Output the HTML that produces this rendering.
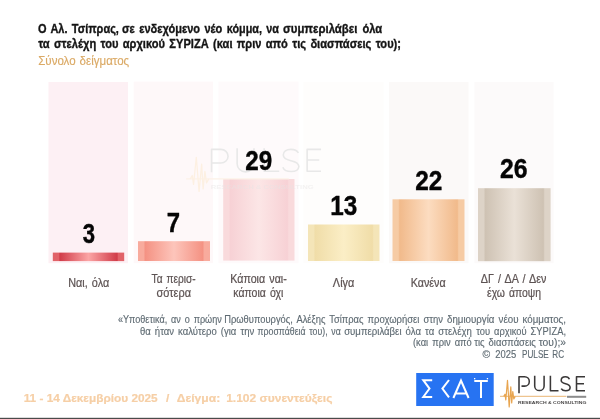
<!DOCTYPE html>
<html lang="el">
<head>
<meta charset="utf-8">
<title>Pulse</title>
<style>
html,body{margin:0;padding:0;background:#fff;}
body{width:600px;height:419px;overflow:hidden;font-family:"Liberation Sans",sans-serif;}
svg{display:block;}
text{font-family:"Liberation Sans",sans-serif;}
.t{word-spacing:1.5px;font-weight:bold;font-size:13.2px;fill:#141414;stroke:#141414;stroke-width:0.35;}
.sub{word-spacing:0.8px;font-size:12.2px;fill:#dbaa66;stroke:#dbaa66;stroke-width:0.15;}
.num{font-weight:bold;font-size:27.8px;fill:#050505;stroke:#050505;stroke-width:0.4;text-anchor:middle;}
.lab{word-spacing:1.3px;font-size:12px;fill:#5d5353;stroke:#5d5353;stroke-width:0.22;text-anchor:middle;}
.fn{word-spacing:1.6px;font-size:10.8px;fill:#5f6b73;stroke:#5f6b73;stroke-width:0.15;}
.ft{font-weight:bold;font-size:11.8px;fill:#f6cfa6;stroke:#f6cfa6;stroke-width:0.2;}
</style>
</head>
<body>
<svg width="600" height="419" viewBox="0 0 600 419" style="opacity:0.999">
<defs>
<linearGradient id="g1" x1="0" x2="1" y1="0" y2="0">
 <stop offset="0" stop-color="#e16268"/><stop offset="0.08" stop-color="#e16268"/><stop offset="0.10" stop-color="#d13c49"/><stop offset="0.5" stop-color="#fba5a5"/><stop offset="0.90" stop-color="#d13c49"/><stop offset="0.92" stop-color="#e16268"/><stop offset="1" stop-color="#e16268"/>
</linearGradient>
<linearGradient id="g2" x1="0" x2="1" y1="0" y2="0">
 <stop offset="0" stop-color="#f8ab9d"/><stop offset="0.08" stop-color="#f8ab9d"/><stop offset="0.10" stop-color="#f49283"/><stop offset="0.5" stop-color="#fdc5bb"/><stop offset="0.90" stop-color="#f49283"/><stop offset="0.92" stop-color="#f8ab9d"/><stop offset="1" stop-color="#f8ab9d"/>
</linearGradient>
<linearGradient id="g3" x1="0" x2="1" y1="0" y2="0">
 <stop offset="0" stop-color="#f9dadc"/><stop offset="0.08" stop-color="#f9dadc"/><stop offset="0.10" stop-color="#f7d1d5"/><stop offset="0.5" stop-color="#fce6e6"/><stop offset="0.90" stop-color="#f7d1d5"/><stop offset="0.92" stop-color="#f9dadc"/><stop offset="1" stop-color="#f9dadc"/>
</linearGradient>
<linearGradient id="g4" x1="0" x2="1" y1="0" y2="0">
 <stop offset="0" stop-color="#f4e5b8"/><stop offset="0.08" stop-color="#f4e5b8"/><stop offset="0.10" stop-color="#f0dda8"/><stop offset="0.5" stop-color="#fbeec6"/><stop offset="0.90" stop-color="#f0dda8"/><stop offset="0.92" stop-color="#f4e5b8"/><stop offset="1" stop-color="#f4e5b8"/>
</linearGradient>
<linearGradient id="g5" x1="0" x2="1" y1="0" y2="0">
 <stop offset="0" stop-color="#f6cba4"/><stop offset="0.08" stop-color="#f6cba4"/><stop offset="0.10" stop-color="#f1ba8b"/><stop offset="0.5" stop-color="#fcdcc0"/><stop offset="0.90" stop-color="#f1ba8b"/><stop offset="0.92" stop-color="#f6cba4"/><stop offset="1" stop-color="#f6cba4"/>
</linearGradient>
<linearGradient id="g6" x1="0" x2="1" y1="0" y2="0">
 <stop offset="0" stop-color="#ddd3c7"/><stop offset="0.08" stop-color="#ddd3c7"/><stop offset="0.10" stop-color="#cec2b3"/><stop offset="0.5" stop-color="#eae1d7"/><stop offset="0.90" stop-color="#cec2b3"/><stop offset="0.92" stop-color="#ddd3c7"/><stop offset="1" stop-color="#ddd3c7"/>
</linearGradient>
<linearGradient id="gb" x1="0" x2="0" y1="0" y2="1">
 <stop offset="0" stop-color="#ffffff"/><stop offset="0.45" stop-color="#9a9a9a"/><stop offset="1" stop-color="#3c3c3c"/>
</linearGradient>
<filter id="soft" x="-5%" y="-5%" width="110%" height="110%"><feGaussianBlur stdDeviation="0.5"/></filter>

</defs>
<rect width="600" height="419" fill="#ffffff"/>
<!-- column backgrounds -->
<g filter="url(#soft)">
<rect x="48.5" y="82" width="79.5" height="181.2" fill="#fdf0f4"/>
<rect x="133.7" y="81.6" width="79.3" height="181.6" fill="#fef8f9"/>
<rect x="218.5" y="81.6" width="80" height="181.6" fill="#fefafb"/>
<rect x="303.5" y="82" width="80" height="181.2" fill="#fefdfc"/>
<rect x="389" y="82" width="79.5" height="181.2" fill="#fbf9f8"/>
<rect x="474.5" y="82" width="79" height="181.2" fill="#fcfafa"/>
</g>
<!-- bars -->
<rect x="52.8" y="252.6" width="71.4" height="8.5" fill="url(#g1)"/>
<rect x="138" y="241.2" width="72" height="19.8" fill="url(#g2)"/>
<rect x="223.2" y="179" width="71.3" height="81.6" fill="url(#g3)"/>
<rect x="308" y="224.5" width="71.5" height="36.5" fill="url(#g4)"/>
<rect x="392.5" y="199.3" width="72" height="61.7" fill="url(#g5)"/>
<rect x="478" y="188.2" width="72.6" height="73" fill="url(#g6)"/>
<!-- watermark -->
<g>
 <g transform="translate(210.4,148.3) scale(1.62,1.55)" stroke="#e8e8e8" stroke-width="1.0" fill="none" stroke-linejoin="round">
 <path d="M0.7 15.5 V0.7 H6.5 A4.4 4.4 0 0 1 6.5 9.5 H0.7"/>
 <path d="M16.5 0 V10 A5.2 5.2 0 0 0 26.9 10 V0"/>
 <path d="M33.2 0 V14.8 H42.5"/>
 <path d="M54.3 3 C53.5 1.4 51.8 0.7 49.7 0.7 C46.8 0.7 45 2.2 45 4.3 C45 6.5 46.8 7.3 49.7 8 C52.8 8.7 54.6 9.6 54.6 11.8 C54.6 13.8 52.6 15 49.9 15 C47.4 15 45.4 14 44.7 12.2"/>
 <path d="M68.3 0.7 H59.7 V14.8 H68.3 M59.7 7.6 H67.2"/>
</g>
 <text x="210.7" y="188.8" font-size="4.6" fill="#e6e4e4" opacity="0.45" textLength="103" lengthAdjust="spacingAndGlyphs" font-weight="bold">RESEARCH &amp; CONSULTING</text>
 <g transform="translate(210.4,148.3) scale(1.62,1.55) translate(-518,-376.7)" fill="none">
  <path d="M503 396.4 H566.4" stroke="#fcf2e7" stroke-width="0.9"/>
  <path transform="translate(1.8,0)" d="M503.8 396.4 L505 394.2 L505.8 400 L507.5 382.5 L509.2 404.5 L510.8 386.9 L511.7 402.9 L512.8 391.6 L513.8 399 L515.2 396.4" stroke="#fdf0e2" stroke-width="0.8" stroke-linejoin="round"/>
 </g>
</g>
<!-- numbers -->
<text class="num" x="88.8" y="242.6" textLength="12.3" lengthAdjust="spacingAndGlyphs">3</text>
<text class="num" x="173.3" y="231.6" textLength="13.3" lengthAdjust="spacingAndGlyphs">7</text>
<text class="num" x="258.8" y="169.9" textLength="27" lengthAdjust="spacingAndGlyphs">29</text>
<text class="num" x="343.7" y="214.8" textLength="27" lengthAdjust="spacingAndGlyphs">13</text>
<text class="num" x="428.8" y="189.6" textLength="27.2" lengthAdjust="spacingAndGlyphs">22</text>
<text class="num" x="513.8" y="177.9" textLength="27.6" lengthAdjust="spacingAndGlyphs">26</text>
<!-- title -->
<text class="t" x="38.0" y="33.2" textLength="80.9" lengthAdjust="spacingAndGlyphs">Ο Αλ. Τσίπρας,</text>
<text class="t" x="122.0" y="33.2" textLength="100.3" lengthAdjust="spacingAndGlyphs">σε ενδεχόμενο νέο</text>
<text class="t" x="226.7" y="33.2" textLength="52.2" lengthAdjust="spacingAndGlyphs">κόμμα, να</text>
<text class="t" x="283.0" y="33.2" textLength="74.3" lengthAdjust="spacingAndGlyphs">συμπεριλάβει</text>
<text class="t" x="362.5" y="33.2" textLength="19.7" lengthAdjust="spacingAndGlyphs">όλα</text>
<text class="t" x="38.2" y="47.5" textLength="362.8" lengthAdjust="spacingAndGlyphs">τα στελέχη του αρχικού ΣΥΡΙΖΑ (και πριν από τις διασπάσεις του);</text>
<text class="sub" x="38.2" y="64.7" textLength="91" lengthAdjust="spacingAndGlyphs">Σύνολο δείγματος</text>
<!-- labels -->
<text class="lab" x="88.7" y="287.3" textLength="41" lengthAdjust="spacingAndGlyphs">Ναι, όλα</text>
<text class="lab" x="173.6" y="283.4" textLength="44" lengthAdjust="spacingAndGlyphs">Τα περισ-</text>
<text class="lab" x="173.8" y="297" textLength="34.5" lengthAdjust="spacingAndGlyphs">σότερα</text>
<text class="lab" x="258.5" y="283.4" textLength="56.5" lengthAdjust="spacingAndGlyphs">Κάποια ναι-</text>
<text class="lab" x="258.3" y="297" textLength="50" lengthAdjust="spacingAndGlyphs">κάποια όχι</text>
<text class="lab" x="343.6" y="287.3" textLength="21.5" lengthAdjust="spacingAndGlyphs">Λίγα</text>
<text class="lab" x="428.2" y="287.3" textLength="35" lengthAdjust="spacingAndGlyphs">Κανένα</text>
<text class="lab" x="513.6" y="283.4" textLength="65.5" lengthAdjust="spacingAndGlyphs">ΔΓ / ΔΑ / Δεν</text>
<text class="lab" x="514" y="297" textLength="54" lengthAdjust="spacingAndGlyphs">έχω άποψη</text>
<!-- footnote -->
<text class="fn" x="118.0" y="322.9" textLength="103.8" lengthAdjust="spacingAndGlyphs">«Υποθετικά, αν ο πρώην</text>
<text class="fn" x="224.2" y="322.9" textLength="139.3" lengthAdjust="spacingAndGlyphs">Πρωθυπουργός, Αλέξης Τσίπρας</text>
<text class="fn" x="367.5" y="322.9" textLength="75.5" lengthAdjust="spacingAndGlyphs">προχωρήσει στην</text>
<text class="fn" x="447.0" y="322.9" textLength="119.0" lengthAdjust="spacingAndGlyphs">δημιουργία νέου κόμματος,</text>
<text class="fn" x="140.0" y="334.6" textLength="114.2" lengthAdjust="spacingAndGlyphs">θα ήταν καλύτερο (για την</text>
<text class="fn" x="257.5" y="334.6" textLength="83.3" lengthAdjust="spacingAndGlyphs">προσπάθειά του), να</text>
<text class="fn" x="344.2" y="334.6" textLength="127.6" lengthAdjust="spacingAndGlyphs">συμπεριλάβει όλα τα στελέχη</text>
<text class="fn" x="476.2" y="334.6" textLength="89.8" lengthAdjust="spacingAndGlyphs">του αρχικού ΣΥΡΙΖΑ,</text>
<text class="fn" x="413.0" y="346.3" textLength="58.8" lengthAdjust="spacingAndGlyphs">(και πριν από</text>
<text class="fn" x="474.2" y="346.3" textLength="61.6" lengthAdjust="spacingAndGlyphs">τις διασπάσεις</text>
<text class="fn" x="538.7" y="346.3" textLength="27.3" lengthAdjust="spacingAndGlyphs">του);»</text>
<text class="fn" x="482.6" y="358.0" textLength="7.7" lengthAdjust="spacingAndGlyphs">©</text>
<text class="fn" x="495.3" y="358.0" textLength="21.0" lengthAdjust="spacingAndGlyphs">2025</text>
<text class="fn" x="522.0" y="358.0" textLength="42.1" lengthAdjust="spacingAndGlyphs">PULSE RC</text>
<!-- footer -->
<text class="ft" x="23.7" y="401.7" textLength="134" lengthAdjust="spacingAndGlyphs">11 - 14 Δεκεμβρίου 2025</text>
<text class="ft" x="166" y="401.7">/</text>
<text class="ft" x="176.8" y="401.7" textLength="43.4" lengthAdjust="spacingAndGlyphs">Δείγμα:</text>
<text class="ft" x="226.2" y="401.7" textLength="106.2" lengthAdjust="spacingAndGlyphs">1.102 συνεντεύξεις</text>
<!-- SKAI -->
<rect x="416.2" y="373" width="77.5" height="33" fill="#2773f2"/>
<g fill="none" stroke="#ffffff" stroke-width="2" stroke-linejoin="miter" stroke-linecap="butt">
 <path d="M432.2 380.2 H423.3 L429.5 388.6 L423.3 397 H432.2"/>
 <path d="M449 380 L442.4 388.6 L449 397.3"/>
 <path d="M453.4 398 L461 380.6 L468.6 398 M456 393.5 H466"/>
 <path d="M474.3 381 H487.8 M481 381 V398"/>
</g>
<rect x="474" y="378" width="1.3" height="1.3" fill="#fff"/><rect x="486.8" y="378" width="1.3" height="1.3" fill="#fff"/>
<!-- PULSE logo -->
<g fill="none" stroke="#3a3838" stroke-width="1.55" stroke-linejoin="round">
 <path d="M519 393.2 V376.7 H524.6 A4.7 4.7 0 0 1 524.6 386.1 H521.5"/>
 <path d="M534.7 375.8 V385.9 A4.7 4.7 0 0 0 544.1 385.9 V375.8"/>
 <path d="M550.4 375.8 V390.8 H558.5"/>
 <path d="M569.4 379.3 C568.8 377.6 567.4 376.7 565.5 376.7 C562.9 376.7 561.2 378.1 561.2 380.2 C561.2 382.3 562.9 383.1 565.6 383.8 C568.5 384.5 570.1 385.4 570.1 387.5 C570.1 389.6 568.3 390.8 565.7 390.8 C563.6 390.8 562 390 561.2 388.6"/>
 <path d="M585 376.7 H576.5 V390.8 H585 M576.5 383.7 H584"/>
</g>
<path d="M500 396.4 H504.2 H566.4" fill="none" stroke="#eec48f" stroke-width="1.3"/>
<path d="M503.8 396.4 L505 394.2 L505.8 400 L507.5 380.3 L509.2 406.9 L510.8 386.9 L511.7 402.9 L512.8 391.6 L513.8 399 L515.2 396.4" fill="none" stroke="#e8a550" stroke-width="1.2" stroke-linejoin="round"/>
<rect x="567" y="395.8" width="19.2" height="2" fill="#8c8c8c"/>
<text x="518" y="403.7" font-size="3.6" font-weight="bold" fill="#4a4848" textLength="68.4" lengthAdjust="spacingAndGlyphs">RESEARCH &amp; CONSULTING</text>
<!-- bottom line -->
<rect x="0" y="417" width="600" height="1" fill="#dadada"/><rect x="0" y="418" width="600" height="1" fill="#4a4a4a"/>
</svg>
</body>
</html>
